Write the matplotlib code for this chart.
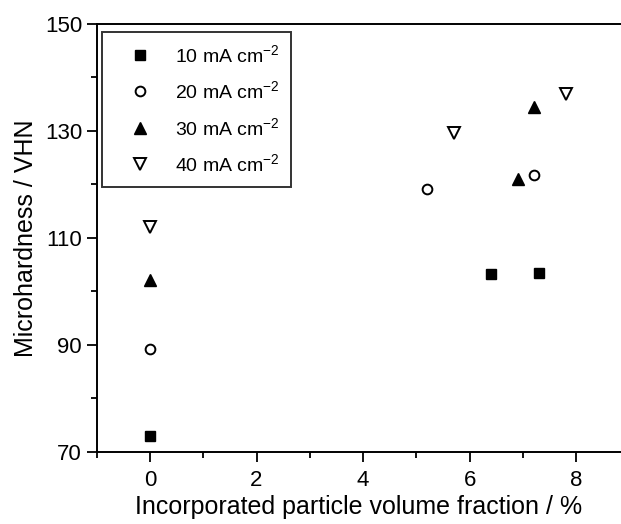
import matplotlib.pyplot as plt
from matplotlib.ticker import FixedLocator

plt.rcParams["font.family"] = ["Liberation Sans", "DejaVu Sans"]
plt.rcParams["mathtext.default"] = "regular"

# volume fraction (%) and microhardness (VHN) per current density
x_10 = [0.0, 6.4, 7.3]
y_10 = [73.0, 103.2, 103.5]
x_20 = [0.0, 5.2, 7.2]
y_20 = [89.2, 119.1, 121.7]
x_30 = [0.0, 6.9, 7.2]
y_30 = [102.2, 121.0, 134.5]
x_40 = [0.0, 5.7, 7.8]
y_40 = [112.0, 129.7, 136.9]

labels = [r"10 mA cm$^{-2}$", r"20 mA cm$^{-2}$",
          r"30 mA cm$^{-2}$", r"40 mA cm$^{-2}$"]

x_major = [0, 2, 4, 6, 8]
x_minor = [-1, 1, 3, 5, 7]
y_major = [70, 90, 110, 130, 150]
y_minor = [80, 100, 120, 140]

W, H = 621, 524
fig = plt.figure(figsize=(W / 100, H / 100), dpi=100)
ax = fig.add_axes([96.7 / W, (H - 451.7) / H, (W - 96.7) / W, 427.7 / H])

ax.plot(x_10, y_10, "s", color="black", markersize=6.5, linestyle="none", label=labels[0])
ax.plot(x_20, y_20, "o", mfc="white", mec="black", mew=1.4, markersize=7,
        linestyle="none", label=labels[1])
ax.plot(x_30, y_30, "^", color="black", markersize=8.5, linestyle="none", label=labels[2])
ax.plot(x_40, y_40, "v", mfc="white", mec="black", mew=1.4, markersize=8.5,
        linestyle="none", label=labels[3])

ax.set_xlim(-1, 8.84)
ax.set_ylim(70, 150)
ax.xaxis.set_major_locator(FixedLocator(x_major))
ax.xaxis.set_minor_locator(FixedLocator(x_minor))
ax.yaxis.set_major_locator(FixedLocator(y_major))
ax.yaxis.set_minor_locator(FixedLocator(y_minor))
ax.tick_params(which="major", direction="out", length=7, width=1.3, labelsize=16)
ax.tick_params(which="minor", direction="out", length=4, width=1.3)
ax.tick_params(axis="x", pad=6)

for s in ax.spines.values():
    s.set_linewidth(1.4)
ax.spines["right"].set_visible(False)

ax.set_xlabel("Incorporated particle volume fraction / %", fontsize=18, labelpad=3)
ax.set_ylabel("Microhardness / VHN", fontsize=18, labelpad=5)

leg = ax.legend(loc="upper left", bbox_to_anchor=(0.01, 0.981), fontsize=14,
                frameon=True, fancybox=False, edgecolor="black",
                borderpad=0.6, labelspacing=0.75, handletextpad=0.45,
                handlelength=2.7, borderaxespad=0)
leg.get_frame().set_linewidth(1.4)

fig.savefig("out.png", dpi=100)
